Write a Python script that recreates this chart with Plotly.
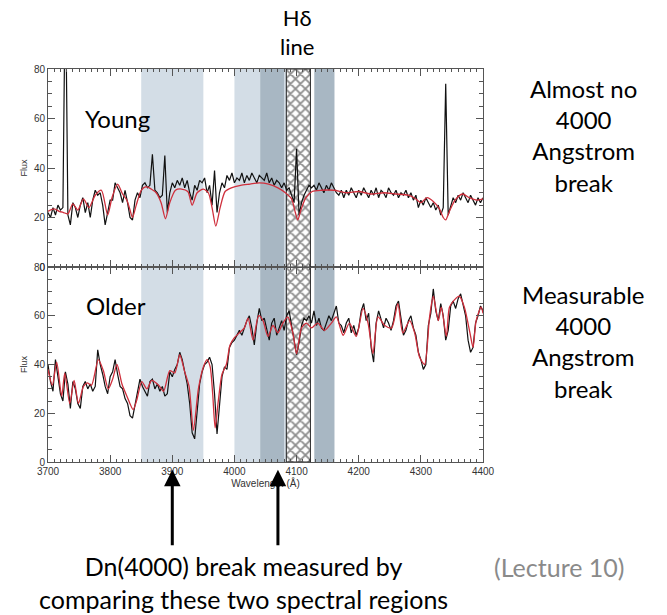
import numpy as np
import plotly.graph_objects as go

# Observed spectra sampled every 4 Angstrom, 3700-4400
wave_grid = np.arange(3700, 4401, 4)

young_obs = [
    22, 20, 24, 21, 25, 23, 24, 120, 21, 17,
    26, 24, 20, 25, 28, 22, 26, 20, 27, 31,
    29, 30, 25, 17, 22, 27, 27, 34, 32, 30,
    26, 31, 26, 20, 19, 27, 30, 28, 33, 34,
    32, 33, 45.5, 31, 30, 28, 29, 45, 22, 30,
    34, 32, 35, 33, 36, 32, 35, 30, 27, 33,
    31, 35, 34, 36, 30, 33, 25, 39, 22, 30,
    34, 32, 37, 35, 38, 34, 36, 35, 38, 34,
    37, 35, 38, 36, 34, 37, 36, 35, 38, 34,
    36, 33, 35, 34, 32, 34, 31, 32, 29, 26,
    47.8, 21, 26, 29, 31, 33, 32, 33, 31, 34,
    32, 30, 33, 31, 34, 32, 30, 29, 31, 28,
    31, 29, 32, 30, 28, 31, 29, 32, 30, 28,
    31, 29, 32, 28, 31, 30, 28, 32, 30, 29,
    31, 28, 30, 29, 31, 28, 30, 27, 29, 24,
    27, 25, 28, 26, 24, 26, 23, 25, 21, 24,
    74, 21, 25, 28, 26, 29, 27, 30, 28, 26,
    29, 27, 25, 28, 26, 28,
]

older_obs = [
    40, 33, 29, 42, 35, 28, 25, 37, 32, 22,
    33, 30, 24, 22, 31, 33, 30, 32, 29, 31,
    46, 40, 36, 31, 28, 35, 37, 42, 36, 31,
    30, 26, 24, 19, 18, 23, 29, 34, 31, 29,
    27, 33, 34, 30, 32, 29, 31, 27, 28, 37,
    35, 38, 40, 45, 42, 37, 32, 24, 12, 9.5,
    22, 32, 37, 40, 41, 43, 40, 28, 11.5, 24,
    35, 39, 38, 47, 49, 50, 52, 54, 52, 55,
    58, 60, 55, 48, 57, 63, 58, 59, 55, 50,
    57, 59, 52, 55, 58, 54, 60, 62, 56, 51,
    44, 49, 56, 59, 58, 60, 57, 62, 56, 59,
    55, 54, 57, 60, 58, 61, 64, 57, 56, 53,
    57, 59, 53, 56, 52, 55, 62, 65, 58, 61,
    47, 41, 57, 62, 58, 55, 59, 57, 54, 58,
    64, 66, 59, 52, 54, 58, 60, 55, 52, 45,
    42, 38, 40, 56, 61, 71, 62, 58, 65, 60,
    50, 54, 64, 66, 63, 67, 69, 64, 60, 50,
    45, 47, 57, 60, 64, 62,
]

# Model fits (red)
young_model_wave = [
    3700, 3710, 3718, 3725, 3732, 3740, 3748, 3757, 3766, 3776,
    3786, 3796, 3803, 3812, 3820, 3827, 3832, 3836, 3842, 3850,
    3858, 3866, 3874, 3882, 3889, 3896, 3905, 3915, 3925, 3932,
    3940, 3950, 3958, 3964, 3970, 3977, 3985, 3995, 4010, 4025,
    4040, 4055, 4070, 4082, 4092, 4098, 4102, 4107, 4115, 4125,
    4140, 4160, 4180, 4200, 4220, 4240, 4260, 4280, 4292, 4300,
    4310, 4320, 4330, 4336, 4340, 4346, 4355, 4367, 4378, 4390,
    4400,
]
young_model_flux = [
    22.5, 23.5, 22.5, 22, 21.5, 25.5, 23, 27.5, 24, 29,
    31, 21, 28, 33.5, 29.5, 27, 23, 20, 25, 31,
    32.5, 31.5, 30, 26, 19.5, 26, 31, 31.5, 30.5, 25,
    30, 31.5, 30, 24, 16.5, 24, 30.5, 32, 33, 33.5,
    34, 33.5, 32, 30, 27.5, 22, 19, 23, 28, 30.5,
    31, 31, 30, 30.5, 29.5, 30, 29.5, 29, 27.5, 26,
    28, 26.5, 23.5, 20, 19, 22.5, 27, 29.5, 28, 27,
    27.5,
]

older_model_wave = [
    3700, 3707, 3714, 3722, 3727, 3735, 3742, 3749, 3757, 3763,
    3770, 3781, 3789, 3797, 3804, 3811, 3819, 3827, 3837, 3843,
    3851, 3859, 3867, 3878, 3886, 3896, 3904, 3912, 3920, 3927,
    3934, 3942, 3950, 3956, 3961, 3965, 3969, 3974, 3980, 3987,
    3993, 4000, 4008, 4016, 4022, 4030, 4039, 4046, 4054, 4062,
    4070, 4078, 4086, 4094, 4100, 4108, 4116, 4124, 4134, 4145,
    4156, 4164, 4175, 4185, 4196, 4207, 4215, 4223, 4231, 4242,
    4253, 4263, 4271, 4282, 4290, 4298, 4306, 4314, 4320, 4328,
    4333, 4341, 4346, 4354, 4362, 4370, 4379, 4384, 4389, 4397,
    4400,
]
older_model_flux = [
    38, 31.5, 41, 27, 36.5, 24, 33.5, 24, 31, 32.5,
    31.5, 42, 37.5, 30, 34, 40, 32, 27, 21.5, 25.5,
    33, 30, 33.5, 31.5, 29, 37.5, 36.5, 44, 37, 31,
    13, 30, 39, 42, 39, 28, 14, 25, 36, 40,
    48, 51, 53, 55, 59, 50, 60, 58, 51.5, 56,
    53, 57, 59.5, 53, 44.5, 55, 57, 55, 57, 54,
    57, 59.5, 52, 57, 51.5, 63, 57, 44.5, 59.5, 56,
    55, 65, 53, 58, 53, 43, 40, 59.5, 68, 58,
    63.5, 51.5, 63.5, 66.5, 68, 63.5, 53, 47, 58, 63.5,
    61,
]

# Index bandpasses (Angstrom)
dn4000_bands = [(3850, 3950), (4000, 4100)]
hdelta_continuum = [(4041.6, 4079.75), (4128.5, 4161.0)]
hdelta_line = (4083.5, 4122.25)

LIGHT = "#d3dde6"
DARK = "#a8b7c3"
BLACK = "#111111"
RED = "#cf2f3c"

fig = go.Figure()

shapes = []
for lo, hi in dn4000_bands:
    shapes.append(dict(type="rect", xref="x", yref="paper", x0=lo, x1=hi, y0=0, y1=1,
                       fillcolor=LIGHT, line_width=0, layer="below"))
for lo, hi in hdelta_continuum:
    shapes.append(dict(type="rect", xref="x", yref="paper", x0=lo, x1=hi, y0=0, y1=1,
                       fillcolor=DARK, line_width=0, layer="below"))

# Cross-hatched H-delta line window in both panels
for xa, ya in (("x", "y"), ("x2", "y2")):
    lo, hi = hdelta_line
    fig.add_trace(go.Scatter(
        x=[lo, hi, hi, lo, lo], y=[0, 0, 80, 80, 0], xaxis=xa, yaxis=ya,
        mode="lines", fill="toself", line=dict(color="#222", width=1),
        fillcolor="white",
        fillpattern=dict(shape="x", fgcolor="#1a1a1a", bgcolor="white", size=7, solidity=0.45),
        hoverinfo="skip", showlegend=False))

# Young (top) panel
fig.add_trace(go.Scatter(x=wave_grid, y=young_obs, xaxis="x2", yaxis="y2", mode="lines",
                         line=dict(color=BLACK, width=1.2), showlegend=False))
fig.add_trace(go.Scatter(x=young_model_wave, y=young_model_flux, xaxis="x2", yaxis="y2",
                         mode="lines", line=dict(color=RED, width=1.3, shape="spline", smoothing=0.7),
                         showlegend=False))
# Older (bottom) panel
fig.add_trace(go.Scatter(x=wave_grid, y=older_obs, xaxis="x", yaxis="y", mode="lines",
                         line=dict(color=BLACK, width=1.2), showlegend=False))
fig.add_trace(go.Scatter(x=older_model_wave, y=older_model_flux, xaxis="x", yaxis="y",
                         mode="lines", line=dict(color=RED, width=1.3, shape="spline", smoothing=0.7),
                         showlegend=False))

tickfont = dict(family="Liberation Sans", size=10, color="#333")
axis_common = dict(showline=True, linecolor="#555", linewidth=1, mirror="allticks",
                   ticks="inside", tickcolor="#555", showgrid=False, zeroline=False,
                   tickfont=tickfont)
xcommon = dict(axis_common, range=[3700, 4400], dtick=100, tick0=3700, ticklen=7,
               minor=dict(dtick=10, ticklen=3, ticks="inside", tickcolor="#555"))
ycommon = dict(axis_common, range=[0, 80], dtick=20, ticklen=7,
               minor=dict(dtick=5, ticklen=4, ticks="inside", tickcolor="#555"),
               title=dict(text="Flux", font=dict(family="Liberation Sans", size=9, color="#333"),
                          standoff=4))

split = 195 / 393
fig.update_layout(
    width=667, height=615,
    margin=dict(l=48, r=184, t=69, b=153),
    paper_bgcolor="white", plot_bgcolor="white",
    xaxis=dict(xcommon, anchor="y",
               title=dict(text="Wavelength (Å)", font=dict(family="Liberation Sans", size=10, color="#333"),
                          standoff=2)),
    yaxis=dict(ycommon, domain=[0, split], anchor="x"),
    xaxis2=dict(xcommon, anchor="y2", matches="x", showticklabels=False),
    yaxis2=dict(ycommon, domain=[split, 1], anchor="x2"),
    shapes=shapes,
)

txt = dict(family="Lato", color="black")
annotations = [
    dict(text="Young", x=0.159, y=0.875, font=dict(txt, size=24)),
    dict(text="Older", x=0.157, y=0.399, font=dict(txt, size=24)),
    dict(text="Almost no<br>4000<br>Angstrom<br>break", x=1.23, y=0.83, font=dict(txt, size=24)),
    dict(text="Measurable<br>4000<br>Angstrom<br>break", x=1.23, y=0.306, font=dict(txt, size=24)),
    dict(text="Hδ<br>line", x=0.572, y=1.093, font=dict(txt, size=22)),
    dict(text="Dn(4000) break measured by<br>comparing these two spectral regions",
         x=0.45, y=-0.307, font=dict(txt, size=25)),
    dict(text="(Lecture 10)", x=1.177, y=-0.267, font=dict(family="Lato", size=25, color="#8a8a8a")),
]
for a in annotations:
    a.update(xref="paper", yref="paper", showarrow=False, xanchor="center", yanchor="middle")

# Arrows pointing at the two Dn(4000) windows
for wl in (3900, 4070):
    annotations.append(dict(x=wl, y=-0.02, xref="x", yref="paper", text="", showarrow=True,
                            ax=0, ay=77, arrowhead=2, arrowsize=1.1, arrowwidth=3,
                            arrowcolor="black"))
fig.update_layout(annotations=annotations)

fig.write_html("out.html")
